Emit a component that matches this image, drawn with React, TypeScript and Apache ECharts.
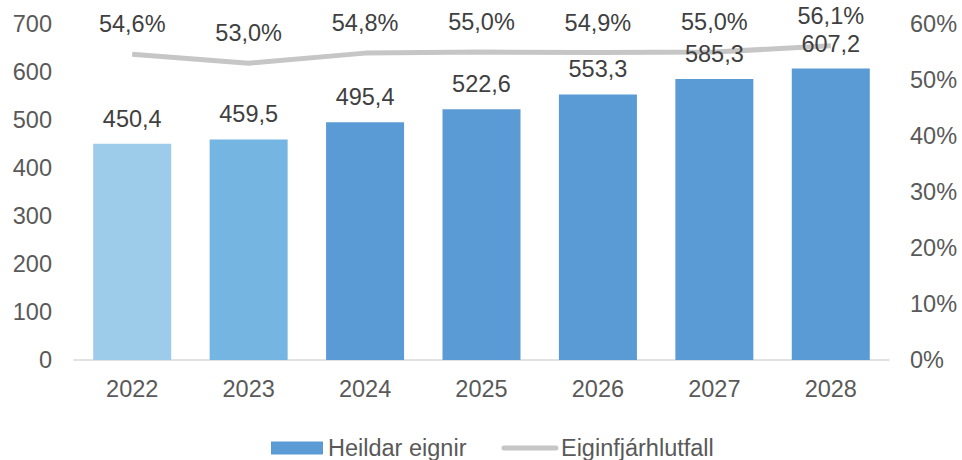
import React, { useEffect, useRef } from "react";
import * as echarts from "echarts";

const years = ["2022", "2023", "2024", "2025", "2026", "2027", "2028"];
const totalAssets = [450.4, 459.5, 495.4, 522.6, 553.3, 585.3, 607.2];
const equityRatio = [54.6, 53.0, 54.8, 55.0, 54.9, 55.0, 56.1];
const barColors = ["#9dcbea", "#75b5e2", "#5b9bd5", "#5b9bd5", "#5b9bd5", "#5b9bd5", "#5b9bd5"];
const barName = "Heildar eignir";
const lineName = "Eiginfjárhlutfall";

const FONT = "'Liberation Sans', Arial, sans-serif";
const FS = 23.5;
const fmt = (v: number, d: number) => v.toFixed(d).replace(".", ",");

export default function App() {
  const ref = useRef<HTMLDivElement>(null);
  useEffect(() => {
    if (!ref.current) return;
    const chart = echarts.init(ref.current, undefined, { renderer: "svg" });
    chart.setOption({
      animation: false,
      textStyle: { fontFamily: FONT },
      grid: { left: 74, right: 73, top: 24, bottom: 100 },
      legend: {
        top: 431,
        left: 266,
        itemWidth: 52,
        itemHeight: 13,
        itemGap: 35,
        textStyle: { fontSize: FS, color: "#595959", fontFamily: FONT },
        data: [
          { name: barName, icon: "rect", itemStyle: { color: "#5b9bd5" } },
          {
            name: lineName,
            itemStyle: { color: "transparent", opacity: 0 },
            lineStyle: { color: "#c6c6c6", width: 5, cap: "round" },
          },
        ],
      },
      xAxis: {
        type: "category",
        data: years,
        axisTick: { show: false },
        axisLine: { lineStyle: { color: "#d9d9d9", width: 1.5 } },
        axisLabel: { fontSize: FS, color: "#595959", margin: 17, fontFamily: FONT },
      },
      yAxis: [
        {
          type: "value",
          min: 0,
          max: 700,
          interval: 100,
          splitLine: { show: false },
          axisLine: { show: false },
          axisTick: { show: false },
          axisLabel: { fontSize: FS, color: "#595959", margin: 22, fontFamily: FONT },
        },
        {
          type: "value",
          min: 0,
          max: 60,
          interval: 10,
          splitLine: { show: false },
          axisLine: { show: false },
          axisTick: { show: false },
          axisLabel: {
            fontSize: FS,
            color: "#595959",
            margin: 21,
            fontFamily: FONT,
            formatter: (v: number) => `${v}%`,
          },
        },
      ],
      series: [
        {
          name: barName,
          type: "bar",
          z: 3,
          barWidth: "67%",
          data: totalAssets.map((v, i) => ({ value: v, itemStyle: { color: barColors[i] } })),
          label: {
            show: true,
            position: "top",
            distance: 13,
            fontSize: FS,
            color: "#404040",
            fontFamily: FONT,
            formatter: (p: any) => fmt(p.value, 1),
          },
        },
        {
          name: lineName,
          type: "line",
          z: 1,
          yAxisIndex: 1,
          data: equityRatio,
          symbol: "circle",
          symbolSize: 0.1,
          showSymbol: true,
          itemStyle: { color: "#c6c6c6" },
          lineStyle: { color: "#c6c6c6", width: 5 },
          label: {
            show: true,
            position: "top",
            distance: 18,
            fontSize: FS,
            color: "#404040",
            fontFamily: FONT,
            formatter: (p: any) => fmt(p.value, 1) + "%",
          },
        },
      ],
    });
    return () => chart.dispose();
  }, []);
  return (
    <div
      ref={ref}
      style={{ position: "absolute", left: 0, top: 0, width: 962, height: 460 }}
    />
  );
}
